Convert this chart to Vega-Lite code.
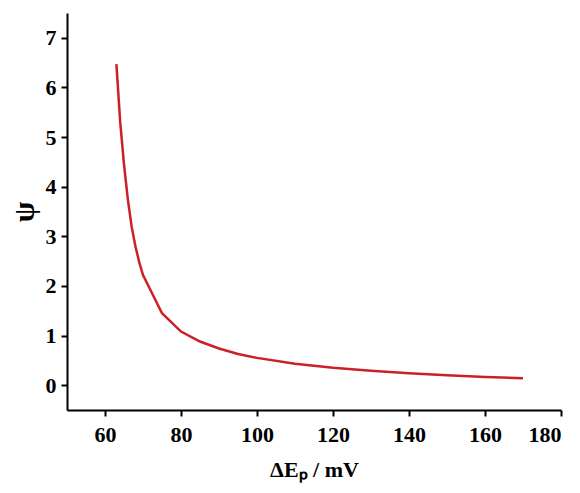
{
  "$schema": "https://vega.github.io/schema/vega-lite/v6.json",
  "width": 494,
  "height": 397,
  "autosize": {"type": "none"},
  "padding": {"left": 67, "top": 13, "right": 19, "bottom": 83},
  "background": "white",
  "config": {
    "view": {"stroke": null},
    "font": "Liberation Serif",
    "axis": {
      "grid": false,
      "domainColor": "black",
      "domainWidth": 2,
      "tickColor": "black",
      "tickWidth": 2,
      "tickSize": 6,
      "labelFont": "Liberation Serif",
      "labelFontWeight": "bold",
      "labelFontSize": 22,
      "labelColor": "black",
      "titleFont": "Liberation Serif",
      "titleFontWeight": "bold",
      "titleColor": "black"
    }
  },
  "data": {
    "values": [
      {"dEp": 63, "psi": 6.47},
      {"dEp": 64, "psi": 5.3},
      {"dEp": 65, "psi": 4.45},
      {"dEp": 66, "psi": 3.75},
      {"dEp": 67, "psi": 3.2},
      {"dEp": 68, "psi": 2.8},
      {"dEp": 69, "psi": 2.48},
      {"dEp": 70, "psi": 2.22},
      {"dEp": 75, "psi": 1.45},
      {"dEp": 80, "psi": 1.08},
      {"dEp": 85, "psi": 0.88},
      {"dEp": 90, "psi": 0.74},
      {"dEp": 95, "psi": 0.63},
      {"dEp": 100, "psi": 0.55},
      {"dEp": 110, "psi": 0.43},
      {"dEp": 120, "psi": 0.35},
      {"dEp": 130, "psi": 0.29},
      {"dEp": 140, "psi": 0.24},
      {"dEp": 150, "psi": 0.2},
      {"dEp": 160, "psi": 0.165},
      {"dEp": 170, "psi": 0.14}
    ]
  },
  "mark": {"type": "line", "color": "#cc1f26", "strokeWidth": 2.5, "interpolate": "linear"},
  "encoding": {
    "x": {
      "field": "dEp",
      "type": "quantitative",
      "scale": {"domain": [50, 180], "nice": false, "zero": false},
      "axis": {
        "values": [60, 80, 100, 120, 140, 160, 180],
        "title": "ΔEₚ / mV",
        "titleFontSize": 22,
        "titlePadding": 14,
        "labelPadding": 8
      }
    },
    "y": {
      "field": "psi",
      "type": "quantitative",
      "scale": {"domain": [-0.5, 7.5], "nice": false, "zero": false},
      "axis": {
        "values": [0, 1, 2, 3, 4, 5, 6, 7],
        "title": "ψ",
        "titleFontSize": 30,
        "titlePadding": 6,
        "labelPadding": 5
      }
    }
  }
}
